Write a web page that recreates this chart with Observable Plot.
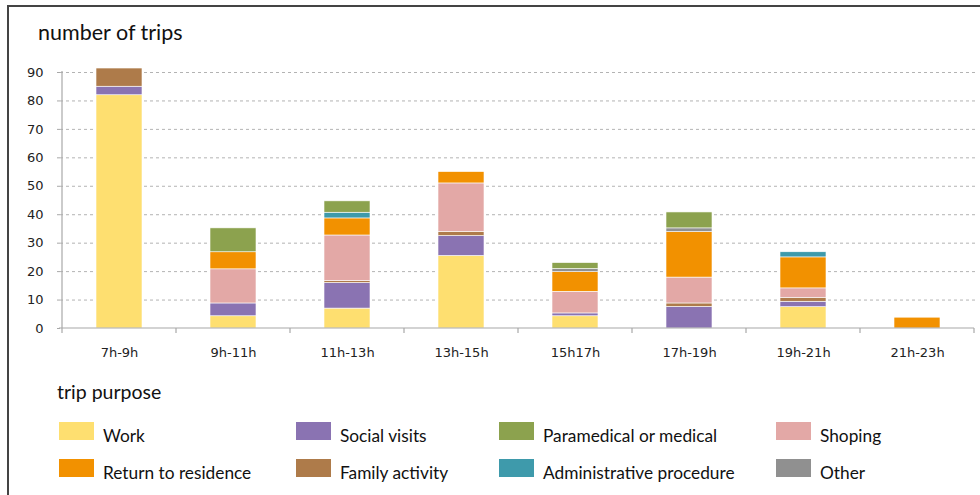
<!DOCTYPE html>
<html><head><meta charset="utf-8">
<script src="https://cdn.jsdelivr.net/npm/d3@7"></script>
<script src="https://cdn.jsdelivr.net/npm/@observablehq/plot@0.6"></script>
<style>
body{margin:0;background:#fff;font-family:Lato,"Open Sans",sans-serif;}
#wrap{position:relative;width:980px;height:495px;overflow:hidden;background:#fff;}
#frame{position:absolute;left:7px;top:5px;width:980px;height:500px;border-left:2px solid #444;border-top:2px solid #444;}
#title{position:absolute;left:38px;top:19px;font-size:21.5px;color:#111;}
#chart{position:absolute;left:0;top:0;}
#legend-title{position:absolute;left:57px;top:380px;font-size:19.5px;color:#111;}
#legend{position:absolute;left:59px;top:422px;}
.row{display:flex;height:37px;}
.item{display:flex;align-items:flex-start;}
.sw{width:35px;height:18px;flex:none;}
.lab{margin-left:9px;font-size:17.3px;color:#111;padding-top:3px;white-space:nowrap;}
</style></head>
<body>
<div id="wrap">
  <div id="frame"></div>
  <div id="title">number of trips</div>
  <div id="chart"></div>
  <div id="legend-title">trip purpose</div>
  <div id="legend"></div>
</div>
<script>
const slots = ["7h-9h","9h-11h","11h-13h","13h-15h","15h17h","17h-19h","19h-21h","21h-23h"];
const yTicks = [0,10,20,30,40,50,60,70,80,90];

// stack order bottom -> top
const purposes = ["Work","Social visits","Family activity","Shoping","Return to residence","Administrative procedure","Other","Paramedical or medical"];
const colors   = ["#FEDF70","#8A73B2","#AE7B4A","#E3A8A6","#F29100","#3E9AAB","#909090","#8CA24E"];

const work       = [82, 4.3, 7, 25.5, 4.3, 0, 7.5, 0];
const social     = [3, 4.5, 9, 7, 1, 7.6, 1.9, 0];
const family     = [6.4, 0, 0.7, 1.5, 0, 1.2, 1.4, 0];
const shopping   = [0, 12, 16, 17, 7.6, 9.1, 3.3, 0];
const returnRes  = [0, 6, 6, 4, 6.9, 16, 10.9, 3.8];
const admin      = [0, 0, 2, 0, 0, 0, 1.8, 0];
const other      = [0, 0, 0, 0, 1.1, 1.3, 0, 0];
const medical    = [0, 8.4, 4, 0, 2.1, 5.6, 0, 0];

// legend layout (rows of the legend, by purpose)
const legendRows = [
  ["Work","Social visits","Paramedical or medical","Shoping"],
  ["Return to residence","Family activity","Administrative procedure","Other"]
];
const legendColWidths = [237, 203, 277, 120];

const seriesValues = [work, social, family, shopping, returnRes, admin, other, medical];
const rows = [];
purposes.forEach((p, k) => seriesValues[k].forEach((v, i) => { if (v > 0) rows.push({slot: slots[i], purpose: p, trips: v}); }));

function axisLines(index, scales, values, dims) {
  const {x, y} = scales;
  const bw = x.bandwidth();
  const centers = slots.map(s => x(s) + bw / 2);
  const step = centers[1] - centers[0];
  const bounds = [centers[0] - step / 2, ...centers.map(c => c + step / 2)];
  const y0 = y(0), yTop = y(d3.max(yTicks));
  const g = d3.create("svg:g").attr("stroke", "#a8a8a8").attr("stroke-width", 1.2).attr("fill", "none");
  g.append("line").attr("x1", bounds[0] - 3).attr("x2", bounds[bounds.length - 1]).attr("y1", y0).attr("y2", y0);
  g.append("line").attr("x1", bounds[0]).attr("x2", bounds[0]).attr("y1", yTop - 1).attr("y2", y0);
  for (const b of bounds) g.append("line").attr("x1", b).attr("x2", b).attr("y1", y0).attr("y2", y0 + 5);
  return g.node();
}

const chart = Plot.plot({
  width: 980, height: 375,
  marginLeft: 60, marginRight: 4, marginTop: 72, marginBottom: 47,
  style: {fontFamily: "'DejaVu Sans', sans-serif", fontSize: "13px", color: "#222", background: "transparent"},
  x: {domain: slots, paddingInner: 0.6, paddingOuter: 0.3, label: null},
  y: {domain: [0, 90], label: null},
  color: {domain: purposes, range: colors},
  marks: [
    Plot.gridY(yTicks.filter(d => d > 0), {stroke: "#9a9a9a", strokeOpacity: 0.75, strokeDasharray: "3,3"}),
    Plot.barY(rows, {x: "slot", y: "trips", fill: "purpose", order: purposes, stroke: "white", strokeWidth: 0.6}),
    Plot.axisY(yTicks, {tickSize: 3, tickPadding: 14, stroke: "#a8a8a8", fill: "#222", label: null}),
    Plot.axisX({tickSize: 0, tickPadding: 19, fill: "#222", label: null}),
    axisLines
  ]
});
document.getElementById("chart").appendChild(chart);

const leg = document.getElementById("legend");
legendRows.forEach(r => {
  const row = document.createElement("div"); row.className = "row";
  r.forEach((p, j) => {
    const it = document.createElement("div"); it.className = "item";
    it.style.width = legendColWidths[j] + "px";
    const sw = document.createElement("div"); sw.className = "sw";
    sw.style.background = colors[purposes.indexOf(p)];
    const lab = document.createElement("div"); lab.className = "lab"; lab.textContent = p;
    it.appendChild(sw); it.appendChild(lab); row.appendChild(it);
  });
  leg.appendChild(row);
});
</script>
</body></html>
